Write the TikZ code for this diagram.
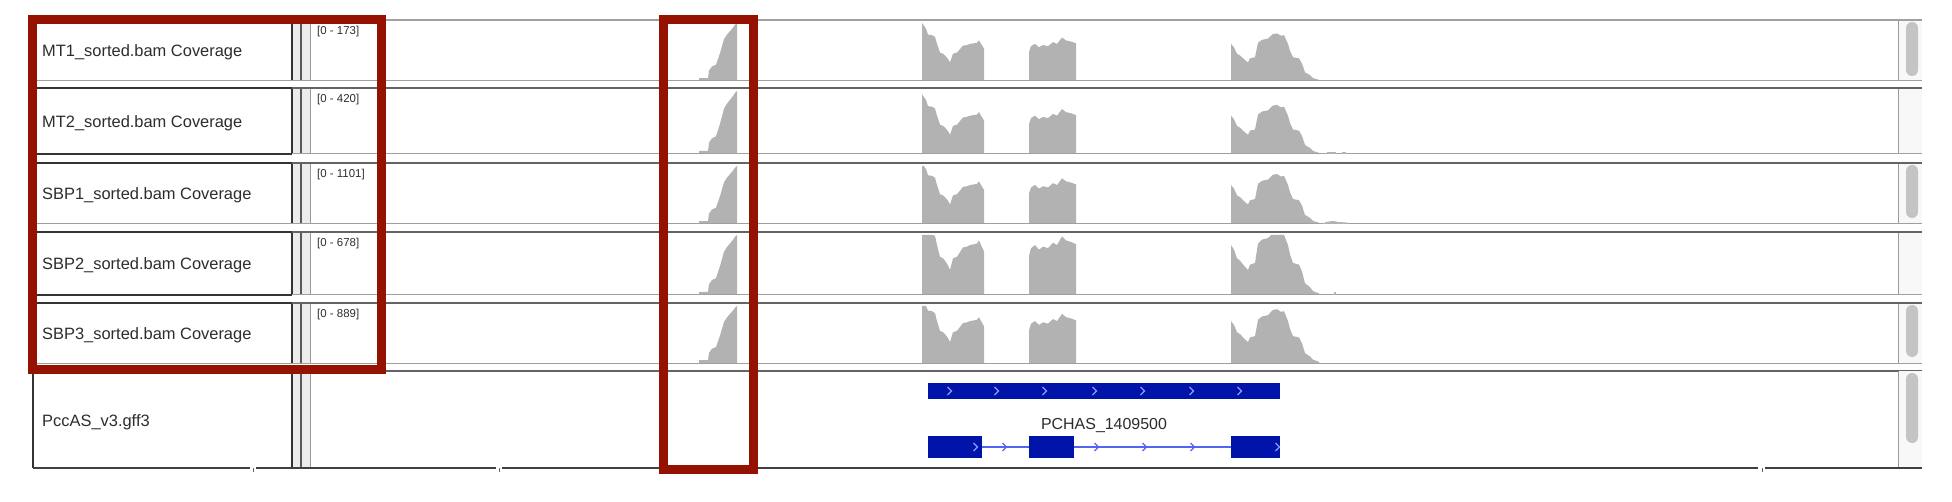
\documentclass[tikz,border=0pt]{standalone}
\usepackage{fontspec}
\setmainfont{Liberation Sans}
\definecolor{redbox}{RGB}{150,18,0}
\definecolor{cov}{RGB}{178,178,178}
\definecolor{gblue}{RGB}{0,20,170}
\definecolor{gline}{RGB}{85,100,240}
\definecolor{gchevc}{RGB}{140,155,255}
\definecolor{stripc}{RGB}{236,236,236}
\definecolor{txt}{RGB}{45,45,45}
\definecolor{thumbc}{RGB}{196,196,196}
\definecolor{scrollbg}{RGB}{248,248,248}
\definecolor{sepdark}{RGB}{100,100,100}
\definecolor{seplight}{RGB}{160,160,160}
\newcommand\genechev[3]{\draw[#3] (#1-2.5,#2-4) -- (#1+1.5,#2) -- (#1-2.5,#2+4);}
\def\peakA{699/0.05, 708/0.05, 709/0.18, 712/0.25, 716/0.28, 718/0.38, 720/0.48, 722/0.6, 724/0.72, 727/0.8, 730/0.86, 733/0.92, 735/0.97, 737/1.0}
\def\blkB{922/1.0, 924/0.95, 926/0.9, 928/0.8, 932/0.79, 935/0.76, 937/0.64, 940/0.49, 943/0.47, 945/0.44, 948/0.38, 950/0.32, 953/0.47, 957/0.49, 960/0.55, 963/0.61, 967/0.62, 970/0.64, 974/0.65, 977/0.66, 979/0.7, 981/0.64, 984/0.56}
\def\blkC{1029/0.5, 1031/0.6, 1035/0.64, 1039/0.58, 1043/0.62, 1048/0.6, 1053/0.67, 1057/0.64, 1062/0.75, 1066/0.7, 1071/0.68, 1076/0.65}
\def\blkD{1231/0.64, 1234/0.58, 1237/0.47, 1240/0.44, 1245/0.36, 1248/0.32, 1250/0.39, 1255/0.41, 1258/0.66, 1262/0.71, 1268/0.73, 1271/0.78, 1273/0.81, 1277/0.82, 1281/0.78, 1284/0.79, 1288/0.64, 1290/0.52, 1293/0.41, 1299/0.39, 1302/0.3, 1305/0.15, 1310/0.1, 1313/0.05, 1319/0.02}
\begin{document}
\begin{tikzpicture}[x=1bp,y=-1bp,
  trackname/.style={anchor=base west, inner sep=0pt, text=txt, font=\fontsize{16.5}{18}\selectfont},
  rangelabel/.style={anchor=north west, inner sep=0pt, text=txt, font=\fontsize{11.5}{13}\selectfont},
  genelabel/.style={anchor=center, inner sep=0pt, text=txt, font=\fontsize{16}{18}\selectfont},
  covfill/.style={fill=cov},
  highlight/.style={draw=redbox, line width=9bp},
  rowtop/.style={draw=sepdark, line width=2bp},
  rowbot/.style={draw=seplight, line width=1bp},
  darkline/.style={draw=black!80, line width=1.3bp},
  midline/.style={draw=black!65, line width=1.3bp},
  lightline/.style={draw=black!40, line width=1bp},
  thumb/.style={fill=thumbc, rounded corners=6bp},
  exon/.style={fill=gblue},
  intron/.style={draw=gline, line width=1.6bp},
  chevlight/.style={draw=gchevc, line width=1.3bp},
  chevline/.style={draw=gline, line width=1.3bp}
]
\useasboundingbox (0,0) rectangle (1952,502);
\fill[white] (0,0) rectangle (1952,502);

% coverage tracks
\foreach \r/\ytop/\ybot/\s/\rng/\nm in {1/20/81/1.0/173/MT1, 2/88/154/0.95/420/MT2, 3/163/224/1.05/1101/SBP1, 4/232/295/1.3/678/SBP2, 5/303/363/1.15/889/SBP3}{
  \pgfmathsetmacro\h{\ybot-\ytop-3}
  \fill[scrollbg] (1898,\ytop) rectangle (1922,\ybot);
  \fill[stripc] (292,\ytop) rectangle (310,\ybot);
  \fill[covfill] (699,\ybot) \foreach \x/\f in \peakA {-- (\x,{\ybot-\f*\h})} -- (737,\ybot) -- cycle;
  \fill[covfill] (922,\ybot) \foreach \x/\f in \blkB {-- (\x,{\ybot-min(1,\s*\f)*\h})} -- (984,\ybot) -- cycle;
  \fill[covfill] (1029,\ybot) \foreach \x/\f in \blkC {-- (\x,{\ybot-min(1,\s*\f)*\h})} -- (1076,\ybot) -- cycle;
  \fill[covfill] (1231,\ybot) \foreach \x/\f in \blkD {-- (\x,{\ybot-min(1,\s*\f)*\h})} -- (1319,\ybot) -- cycle;
  \draw[darkline] (292,\ytop) -- (292,\ybot);
  \draw[midline] (301,\ytop) -- (301,\ybot);
  \draw[lightline] (310,\ytop) -- (310,\ybot);
  \draw[lightline] (1898,\ytop) -- (1898,\ybot);
  \draw[rowbot] (33,\ybot) -- (1922,\ybot);
  \node[trackname] (lab\r) at (42,{(\ytop+\ybot)/2+6.5}) {\nm\_sorted.bam Coverage};
  \node[rangelabel] (rng\r) at (317,\ytop+6) {[0 - \rng]};
}
% row tops
\draw[rowtop, draw=seplight] (33,20) -- (1922,20);
\foreach \ytop in {88,163,232,303,371}{
  \draw[rowtop] (33,\ytop) -- (1922,\ytop);
}
% dark label box edges
\draw[darkline] (33,154) -- (292,154);
\draw[darkline] (33,295) -- (292,295);
\draw[darkline] (33,88) -- (292,88);
\draw[darkline] (33,163) -- (292,163);
\draw[darkline] (33,232) -- (292,232);
\draw[darkline] (33,303) -- (292,303);

% small coverage tails
\draw[draw=cov, line width=1.5bp] (1327,153) -- (1336,153) (1342,153) -- (1346,153);
\fill[covfill] (1322,224) -- (1326,222) -- (1333,221) -- (1338,222) -- (1347,222.5) -- (1347,224) -- cycle;
\draw[draw=cov, line width=1.2bp] (1335,295) -- (1335,292);

% gene track
\fill[scrollbg] (1898,371) rectangle (1922,468);
\fill[stripc] (292,371) rectangle (310,468);
\draw[darkline] (33,371) -- (33,468);
\draw[darkline] (292,371) -- (292,468);
\draw[midline] (301,371) -- (301,468);
\draw[lightline] (310,371) -- (310,468);
\draw[lightline] (1898,371) -- (1898,468);
\node[trackname] (lab6) at (42,426.5) {PccAS\_v3.gff3};

\fill[exon] (928,383) rectangle (1280,399);
\foreach \cx in {950,997,1045,1095,1143,1192,1240}{\genechev{\cx}{391}{chevlight}}
\draw[intron] (982,447) -- (1231,447);
\fill[exon] (928,436) rectangle (982,458);
\fill[exon] (1029,436) rectangle (1074,458);
\fill[exon] (1231,436) rectangle (1280,458);
\foreach \cx in {1005,1097,1145,1193}{\genechev{\cx}{447}{chevline}}
\genechev{976}{447}{chevlight}
\genechev{1278}{447}{chevlight}
\node[genelabel] (gene) at (1104,426) {PCHAS\_1409500};

% bottom line with notches
\draw[draw=black!75, line width=2.5bp] (33,468) -- (250,468) (256,468) -- (496,468) (502,468) -- (1758,468) (1765,468) -- (1922,468);
\draw[draw=black!60, line width=1bp] (253,468) -- (253,472) (499,468) -- (499,472) (1762,468) -- (1762,472);

% scroll thumbs
\fill[thumb] (1906,22) rectangle (1918,76);
\fill[thumb] (1906,165) rectangle (1918,218);
\fill[thumb] (1906,305) rectangle (1918,357);
\fill[thumb] (1906,373) rectangle (1918,443);

% highlight boxes
\draw[highlight] (32.5,19.5) rectangle (381.5,369.5);
\draw[highlight] (663.5,19.5) rectangle (753.5,469.5);
\end{tikzpicture}
\end{document}
